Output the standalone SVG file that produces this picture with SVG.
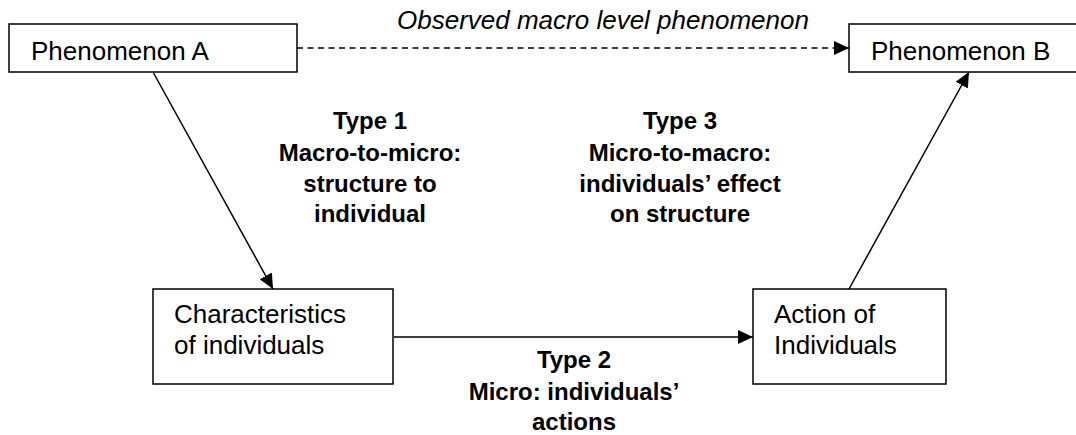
<svg xmlns="http://www.w3.org/2000/svg" width="1076" height="435" viewBox="0 0 1076 435">
  <style>
    .box { fill: #ffffff; stroke: #000000; stroke-width: 1.5; }
    .lbl { font-family: "Liberation Sans", Arial, sans-serif; font-size: 26px; fill: #000000; }
    .bold { font-family: "Liberation Sans", Arial, sans-serif; font-size: 24px; font-weight: bold; fill: #000000; text-anchor: middle; }
    .ital { font-family: "Liberation Sans", Arial, sans-serif; font-size: 26px; font-style: italic; fill: #000000; }
    .conn { stroke: #000000; stroke-width: 1.5; fill: none; }
    .dash { stroke-dasharray: 6 4.5; }
  </style>
  <defs>
    <marker id="arrow" markerUnits="userSpaceOnUse" markerWidth="16" markerHeight="14" refX="15" refY="7" orient="auto">
      <path d="M0,0 L15,7 L0,14 Z" fill="#000000"/>
    </marker>
  </defs>
  <rect width="1076" height="435" fill="#ffffff"/>

  <g id="connectors">
    <line class="conn dash" x1="297" y1="48" x2="849" y2="48" marker-end="url(#arrow)"/>
    <line class="conn" x1="153" y1="72" x2="273" y2="289" marker-end="url(#arrow)"/>
    <line class="conn" x1="394" y1="337" x2="753" y2="337" marker-end="url(#arrow)"/>
    <line class="conn" x1="849" y1="289" x2="969" y2="72" marker-end="url(#arrow)"/>
  </g>

  <g id="phenomenonA">
    <rect class="box" x="9" y="24" width="288" height="48"/>
    <text class="lbl" x="31" y="60">Phenomenon A</text>
  </g>
  <g id="phenomenonB">
    <rect class="box" x="849" y="24" width="240" height="48"/>
    <text class="lbl" x="871" y="60">Phenomenon B</text>
  </g>
  <g id="characteristics">
    <rect class="box" x="153" y="289" width="240" height="95"/>
    <text class="lbl" x="174" y="323">Characteristics</text>
    <text class="lbl" x="174" y="354">of individuals</text>
  </g>
  <g id="action">
    <rect class="box" x="753" y="289" width="193" height="95"/>
    <text class="lbl" x="774" y="323">Action of</text>
    <text class="lbl" x="774" y="354">Individuals</text>
  </g>

  <g id="labels">
    <text class="ital" x="397" y="29">Observed macro level phenomenon</text>
    <text class="bold" x="370" y="129">Type 1</text>
    <text class="bold" x="370" y="161">Macro-to-micro:</text>
    <text class="bold" x="370" y="192">structure to</text>
    <text class="bold" x="370" y="222">individual</text>
    <text class="bold" x="680" y="129">Type 3</text>
    <text class="bold" x="680" y="161">Micro-to-macro:</text>
    <text class="bold" x="680" y="192">individuals’ effect</text>
    <text class="bold" x="680" y="222">on structure</text>
    <text class="bold" x="574" y="368">Type 2</text>
    <text class="bold" x="574" y="400">Micro: individuals’</text>
    <text class="bold" x="574" y="430">actions</text>
  </g>
</svg>
